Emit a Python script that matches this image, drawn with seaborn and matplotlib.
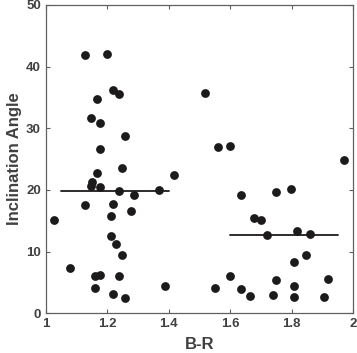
import numpy as np
import pandas as pd
import matplotlib.pyplot as plt
import seaborn as sns
import matplotlib

sns.set_style('white')
matplotlib.rcParams['font.family'] = ['Liberation Sans', 'DejaVu Sans']

# 左组 (B-R < 1.5)
x_left = [1.128, 1.198, 1.219, 1.240, 1.168, 1.149, 1.178, 1.259, 1.178, 1.248,
          1.168, 1.418, 1.150, 1.149, 1.178, 1.239, 1.368, 1.288, 1.127, 1.219,
          1.277, 1.211, 1.028, 1.211, 1.228, 1.248, 1.078, 1.160, 1.178, 1.239,
          1.160, 1.387, 1.219, 1.259]
y_left = [41.9, 42.0, 36.25, 35.5, 34.8, 31.7, 30.9, 28.8, 26.7, 23.5,
          22.7, 22.4, 21.3, 20.7, 20.45, 19.8, 20.0, 19.1, 17.5, 17.7,
          16.6, 15.7, 15.15, 12.5, 11.2, 9.4, 7.4, 6.05, 6.15, 6.05,
          4.15, 4.5, 3.1, 2.5]

# 右组 (B-R > 1.5)
x_right = [1.517, 1.560, 1.600, 1.969, 1.637, 1.749, 1.799, 1.679, 1.699, 1.720,
           1.819, 1.859, 1.848, 1.808, 1.600, 1.749, 1.919, 1.550, 1.637, 1.808,
           1.665, 1.738, 1.808, 1.906]
y_right = [35.8, 27.0, 27.2, 24.8, 19.25, 19.6, 20.1, 15.4, 15.15, 12.65,
           13.4, 12.8, 9.4, 8.3, 6.05, 5.35, 5.5, 4.05, 3.9, 4.5,
           2.85, 2.97, 2.7, 2.7]

# 中位数线
med_left = 19.9
med_right = 12.65
med_left_x = [1.05, 1.40]
med_right_x = [1.60, 1.95]

df = pd.DataFrame({'B-R': x_left + x_right, 'angle': y_left + y_right})

fig = plt.figure(figsize=(3.57, 3.53), dpi=100)
ax = fig.add_axes([0.128, 0.1125, 0.861, 0.8735])
sns.scatterplot(data=df, x='B-R', y='angle', color='#1c1a1a', s=40,
                edgecolor='#1c1a1a', linewidth=0, ax=ax, zorder=3)
ax.plot(med_left_x, [med_left, med_left], color='#1c1a1a', lw=1.3, zorder=2)
ax.plot(med_right_x, [med_right, med_right], color='#1c1a1a', lw=1.3, zorder=2)

ax.set_xlim(1, 2)
ax.set_ylim(0, 50)
ax.set_xticks([1, 1.2, 1.4, 1.6, 1.8, 2])
ax.set_xticklabels(['1', '1.2', '1.4', '1.6', '1.8', '2'])
ax.set_yticks([0, 10, 20, 30, 40, 50])

txt = '#404040'
ax.set_xlabel('B-R', fontsize=12, fontweight='bold', color=txt, labelpad=5)
ax.set_ylabel('Inclination Angle', fontsize=12, fontweight='bold', color=txt, labelpad=3)
ax.tick_params(direction='in', length=3, width=0.8, colors='#606060',
               labelcolor=txt, labelsize=9.5, top=True, right=True,
               bottom=True, left=True)
for lab in ax.get_xticklabels() + ax.get_yticklabels():
    lab.set_fontweight('bold')
for sp in ax.spines.values():
    sp.set_color('#606060')
    sp.set_linewidth(0.9)

fig.savefig('out.png', dpi=100)
